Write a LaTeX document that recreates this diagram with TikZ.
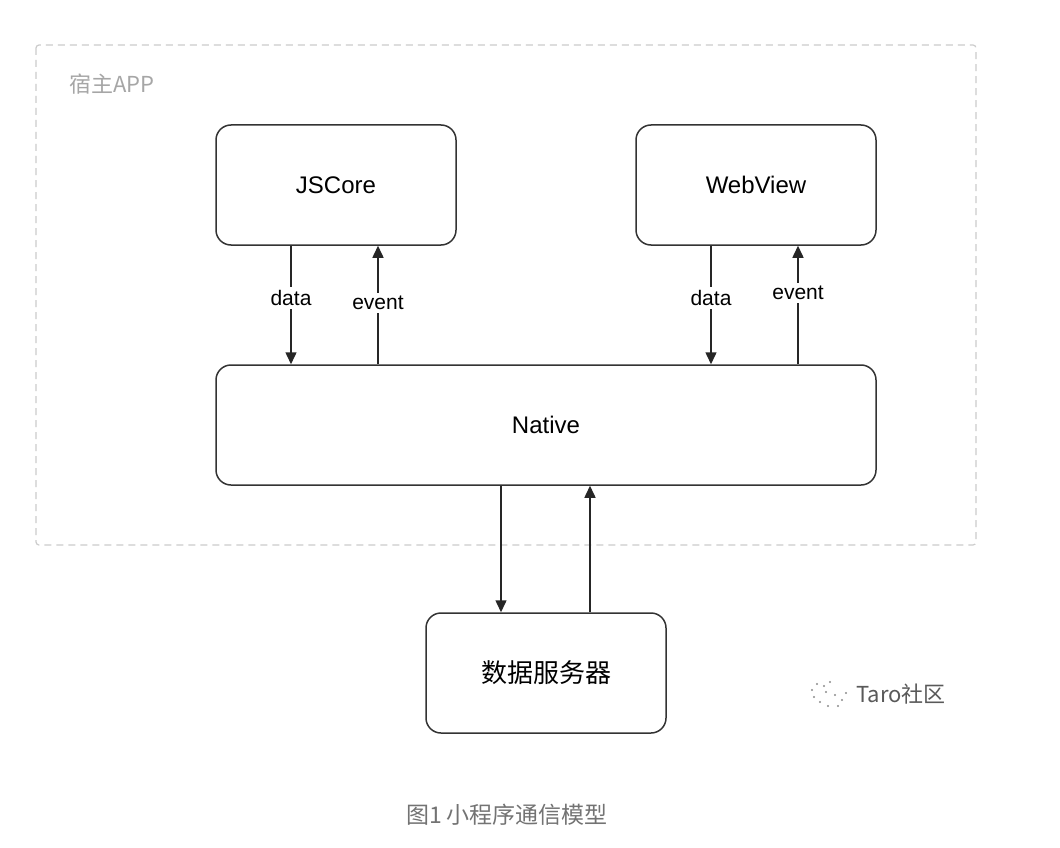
\documentclass[tikz,border=0pt]{standalone}
\usepackage{fontspec}
\setmainfont{Liberation Sans}
\newfontfamily\cjk{Noto Sans CJK SC}
\usetikzlibrary{arrows.meta}
\begin{document}
\begin{tikzpicture}[x=1pt,y=-1pt,
  boxstyle/.style={draw=black!80,line width=1.5pt,rounded corners=15pt,minimum width=240pt,minimum height=120pt,inner sep=0pt,font=\fontsize{24}{28}\selectfont},
  flow/.style={draw=black!85,line width=1.5pt,-{Triangle[length=12pt,width=11pt]}},
  lbl/.style={fill=white,inner sep=3pt,font=\fontsize{21}{24}\selectfont}]
\useasboundingbox (0,0) rectangle (1060,848);
\fill[white] (0,0) rectangle (1060,848);
\draw[black!20,dashed,dash pattern=on 7pt off 5pt,line width=1.2pt,rounded corners=3pt] (36,45) rectangle (976,545);
\node[anchor=west,text=black!35,font=\cjk\fontsize{22}{26}\selectfont] (host) at (66,84) {宿主APP};
\node[boxstyle] (js) at (336,185) {JSCore};
\node[boxstyle] (wv) at (756,185) {WebView};
\node[boxstyle,minimum width=660pt] (nat) at (546,425) {Native};
\node[boxstyle,font=\cjk\fontsize{26}{30}\selectfont] (srv) at (546,673) {数据服务器};
% JSCore arrows
\draw[flow] (js.south -| 291,0) -- node[lbl,pos=0.44]{data} (nat.north -| 291,0);
\draw[flow] (nat.north -| 378,0) -- node[lbl,pos=0.52]{event} (js.south -| 378,0);
% WebView arrows
\draw[flow] (wv.south -| 711,0) -- node[lbl,pos=0.44]{data} (nat.north -| 711,0);
\draw[flow] (nat.north -| 798,0) -- node[lbl,pos=0.6]{event} (wv.south -| 798,0);
% server arrows
\draw[flow] (nat.south -| 501,0) -- (srv.north -| 501,0);
\draw[flow] (srv.north -| 590,0) -- (nat.south -| 590,0);
% watermark
\begin{scope}[black!45]
\foreach \p in {(812,690),(817,684),(824,686),(830,682),(826,692),(835,695),(842,700),(838,706),(828,706),(820,702),(814,697),(846,693)}
  \fill \p circle (1.2pt);
\end{scope}
\node[anchor=west,text=black!65,font=\cjk\fontsize{22}{26}\selectfont] (wm) at (853,694) {Taro社区};
\node[text=black!55,font=\cjk\fontsize{23}{27}\selectfont] (cap) at (507,815) {图1 小程序通信模型};
\end{tikzpicture}
\end{document}
